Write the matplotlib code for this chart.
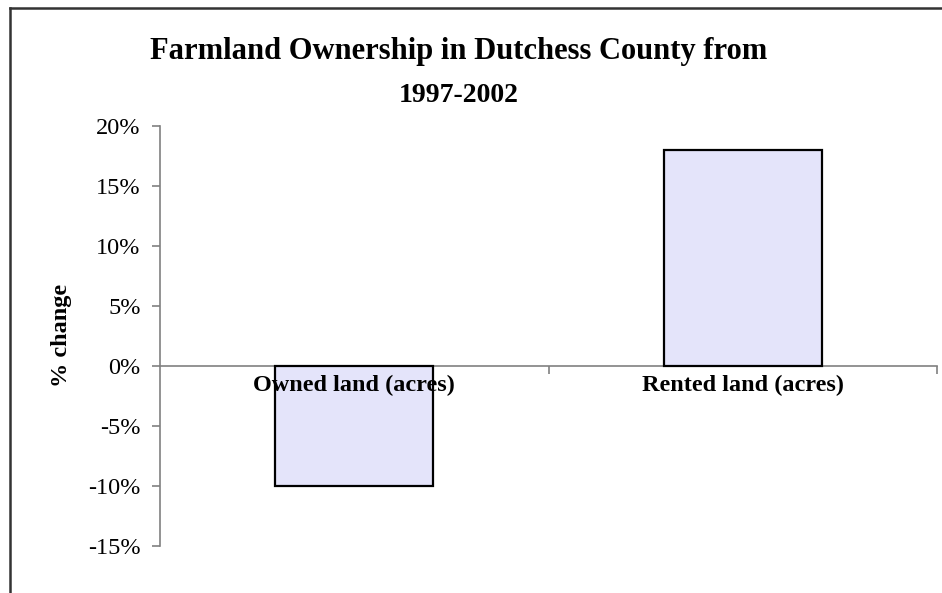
import matplotlib.pyplot as plt
from matplotlib.lines import Line2D
from matplotlib.ticker import PercentFormatter

# data
categories = ['Owned land (acres)', 'Rented land (acres)']
pct_change = [-10, 18]
y_ticks = [-15, -10, -5, 0, 5, 10, 15, 20]

plt.rcParams['font.family'] = ['Liberation Serif', 'DejaVu Serif']
plt.rcParams['axes.unicode_minus'] = False

fig = plt.figure(figsize=(9.42, 5.93), dpi=100)
ax = fig.add_axes([160 / 942, 47 / 593, 777 / 942, 420 / 593])

x = range(len(categories))
ax.bar(x, pct_change, width=0.407, color='#e4e4fa', edgecolor='black',
       linewidth=1.6, zorder=2)

ax.set_xlim(-0.5, 1.5)
ax.set_ylim(-15, 20)
ax.set_yticks(y_ticks)
ax.yaxis.set_major_formatter(PercentFormatter(decimals=0))
ax.tick_params(axis='y', direction='out', length=6, width=1.2, color='#808080',
               labelsize=17.5, pad=8)

# x axis sits at zero, ticks between categories
ax.spines['top'].set_visible(False)
ax.spines['right'].set_visible(False)
ax.spines['bottom'].set_position(('data', 0))
ax.spines['bottom'].set_color('#808080')
ax.spines['bottom'].set_linewidth(1.2)
ax.spines['bottom'].set_zorder(1)
ax.spines['left'].set_color('#808080')
ax.spines['left'].set_linewidth(1.2)
ax.set_xticks([0.5, 1.5])
ax.set_xticklabels([])
ax.tick_params(axis='x', direction='out', length=6, width=1.2, color='#808080')

for i, name in enumerate(categories):
    ax.text(i, -1.6, name, ha='center', va='center', fontsize=17.5,
            fontweight='bold', zorder=3)

ax.set_ylabel('% change', fontsize=17.5, fontweight='bold')
ax.yaxis.set_label_coords(-88 / 777, (593 - 335 - 47) / 420)

fig.text(459 / 942, 1 - 52 / 593, 'Farmland Ownership in Dutchess County from',
         ha='center', va='center', fontsize=22, fontweight='bold')
fig.text(459 / 942, 1 - 96 / 593, '1997-2002',
         ha='center', va='center', fontsize=20, fontweight='bold')

# outer chart frame (left and top edges)
fig.add_artist(Line2D([9.5 / 942, 9.5 / 942], [0, 1 - 7.5 / 593],
                      color='#333333', linewidth=1.8))
fig.add_artist(Line2D([9.5 / 942, 1], [1 - 7.5 / 593, 1 - 7.5 / 593],
                      color='#333333', linewidth=1.8))

fig.savefig('out.png', dpi=100)
